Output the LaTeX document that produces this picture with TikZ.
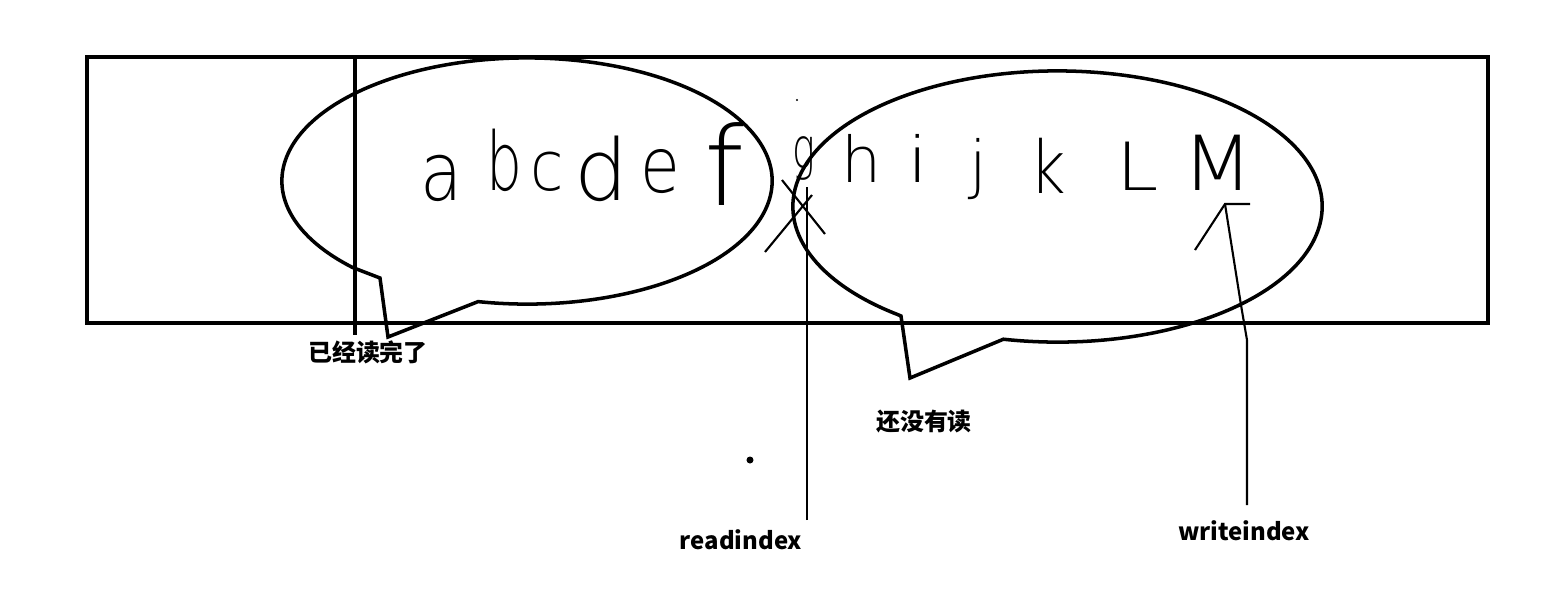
\documentclass[tikz,border=0pt]{standalone}
\usepackage{fontspec}
\newfontfamily\cjk{Noto Sans CJK SC}
\IfFontExistsTF{DejaVu Sans ExtraLight}{\newfontfamily\hand{DejaVu Sans ExtraLight}}{\newfontfamily\hand{DejaVu Sans}}
\usetikzlibrary{positioning}

\tikzset{
  box/.style={line width=1.2pt},
  bubble/.style={line width=1pt},
  pointer/.style={line width=0.6pt},
  letter/.style={anchor=base, inner sep=0pt, font=\hand\fontsize{23}{23}\selectfont},
  smallletter/.style={letter, font=\hand\fontsize{18}{18}\selectfont},
  tag/.style={font=\cjk\bfseries\fontsize{6.8}{8}\selectfont, inner sep=0pt}
}
% squeezed letter
\newcommand{\sq}[3]{\scalebox{#1}[#2]{#3}}

\begin{document}
\begin{tikzpicture}[x=0.01cm, y=-0.01cm]
\useasboundingbox (0,0) rectangle (1556,602);
% the buffer
\draw[box] (87,57) rectangle (1488,323);
\draw[line width=0.9pt] (355,57) -- (355,335);
% bubble of the bytes already read
\draw[bubble] (527,181) ++(258.5:2.45cm and 1.23cm)
  arc[start angle=258.5, end angle=584.6, x radius=2.45cm, y radius=1.23cm]
  -- (380,278) -- (388,337) -- cycle;
% bubble of the bytes not read yet
\draw[bubble] (1057.5,206.5) ++(258.2:2.645cm and 1.355cm)
  arc[start angle=258.2, end angle=592.7, x radius=2.645cm, y radius=1.355cm]
  -- (901,316) -- (910,378) -- cycle;
% letters
\node[letter] (a) at (442,200) {\sq{0.85}{1}{a}};
\node[letter] (b) at (504,190) {\sq{0.7}{1}{b}};
\node[letter] (c) at (547,190) {\sq{0.75}{0.85}{c}};
\node[letter] (d) at (601,200) {\sq{1.05}{1.05}{d}};
\node[letter] (e) at (660,192) {\sq{0.8}{0.95}{e}};
\node[letter] (f) at (724,205) {\sq{1.4}{1.35}{f}};
\node[smallletter] (g) at (804,168) {\sq{0.6}{0.9}{g}};
\node[smallletter] (h) at (862,182) {h};
\node[smallletter] (i) at (918,182) {\sq{1.2}{1}{i}};
\node[smallletter] (j) at (978,186) {j};
\node[smallletter] (k) at (1048,193) {\sq{1}{1.15}{k}};
\node[smallletter] (L) at (1138,190) {\sq{1.2}{1.05}{L}};
\node[smallletter] (M) at (1218,190) {\sq{1.3}{1.2}{M}};
% labels
\node[tag] (done) at (368,352) {已经读完了};
\node[tag] (unread) at (924,422) {还没有读};
\node[tag] (rlabel) at (741,540) {readindex};
\node[tag] (wlabel) at (1244,531) {writeindex};
% read pointer
\coordinate (rfoot) at (807,520);
\coordinate (rtip) at (807,187);
\draw[pointer] (rfoot) -- (rtip);
\draw[pointer] (782,180) -- (825,234);
\draw[pointer] (765,252) -- (812,195);
% write pointer
\coordinate (wfoot) at (1247,505);
\coordinate (wtip) at (1225,204);
\draw[pointer] (wfoot) -- (1247,340) -- (1241,305) -- (wtip);
\draw[pointer] (1195,250) -- (wtip) -- (1250,204);
% stray marks
\fill (750,460) circle[radius=0.035cm];
\fill (797,100) circle[radius=0.012cm];
\end{tikzpicture}
\end{document}
